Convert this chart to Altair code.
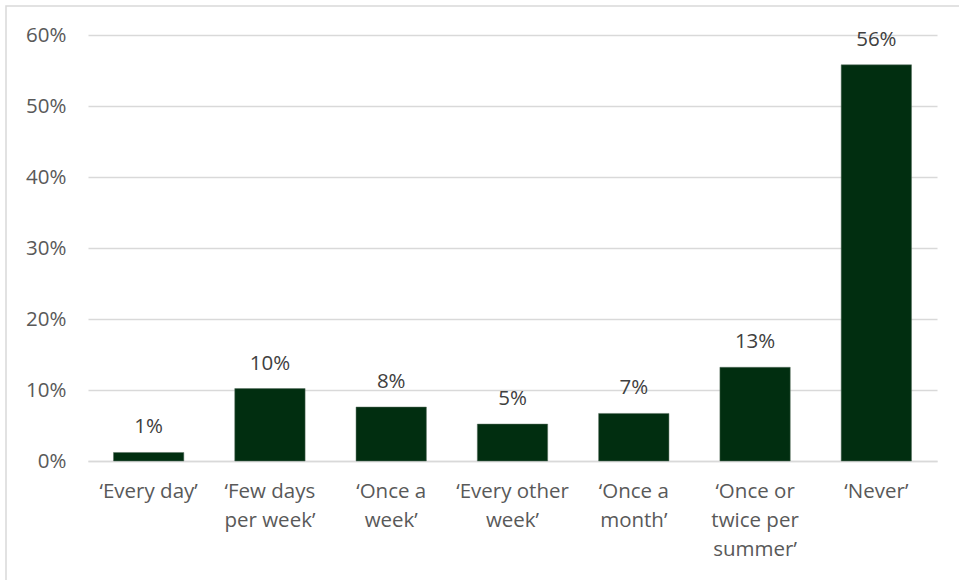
import altair as alt
import pandas as pd

categories = ["‘Every day’", "‘Few days per week’", "‘Once a week’", "‘Every other week’",
              "‘Once a month’", "‘Once or twice per summer’", "‘Never’"]
label_lines = [["‘Every day’"], ["‘Few days", "per week’"], ["‘Once a", "week’"],
               ["‘Every other", "week’"], ["‘Once a", "month’"],
               ["‘Once or", "twice per", "summer’"], ["‘Never’"]]
values = [0.012, 0.102, 0.076, 0.052, 0.067, 0.132, 0.558]
y_ticks = [0, 0.1, 0.2, 0.3, 0.4, 0.5, 0.6]

df = pd.DataFrame({"cat": categories, "val": values})

label_expr = "{" + ", ".join(
    '"' + c + '": [' + ", ".join('"' + l + '"' for l in ls) + "]"
    for c, ls in zip(categories, label_lines)) + "}[datum.value]"

FONT = "Open Sans"
FS = 20.5

x = alt.X("cat:N", sort=categories, title=None,
          scale=alt.Scale(paddingInner=0.42, paddingOuter=0.21),
          axis=alt.Axis(labelAngle=0, labelExpr=label_expr, ticks=False, domain=True,
                        grid=False,
                        domainColor="#d9d9d9", domainWidth=1.3, labelFont=FONT,
                        labelFontSize=FS, labelColor="#595959", labelLineHeight=29,
                        labelPadding=20, labelLimit=200))
y = alt.Y("val:Q", title=None,
          scale=alt.Scale(domain=[0, 0.6], nice=False),
          axis=alt.Axis(values=y_ticks, format=".0%", ticks=False, domain=False,
                        grid=True, gridColor="#d9d9d9", gridWidth=1.3,
                        labelFont=FONT, labelFontSize=FS, labelColor="#595959",
                        labelPadding=22))

base = alt.Chart(df)
bars = base.mark_bar(color="#012e10", stroke="#5a7060", strokeWidth=0.5).encode(x=x, y=y)
text = base.mark_text(baseline="bottom", dy=-15, font=FONT, fontSize=FS,
                      color="#404040").encode(
    x=alt.X("cat:N", sort=categories), y=alt.Y("val:Q"),
    text=alt.Text("val:Q", format=".0%"))

border = alt.Chart(pd.DataFrame({"a": [0]})).mark_rect(
    fillOpacity=0, stroke="#d9d9d9", strokeWidth=1.5).encode(
    x=alt.value(-82), x2=alt.value(880), y=alt.value(-29), y2=alt.value(552))

chart = alt.layer(border, bars, text).properties(
    width=849, height=426,
    background="white",
    autosize=alt.AutoSizeParams(type="none"),
    padding={"left": 88, "top": 35, "right": 22, "bottom": 119},
).configure_view(stroke=None)

chart.save("out.html", embed_options={"renderer": "svg", "actions": False})
